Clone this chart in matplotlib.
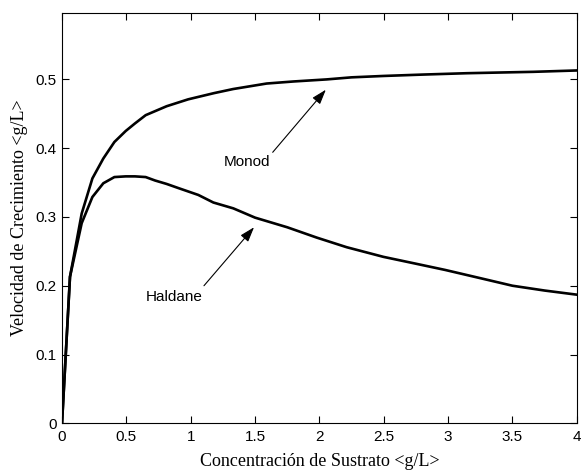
import matplotlib.pyplot as plt
import numpy as np

# sustrato (g/L) y velocidad
s_monod = [0, 0.062, 0.153, 0.236, 0.321, 0.407, 0.495, 0.567, 0.65, 0.813, 0.98, 1.18,
           1.33, 1.59, 1.8, 2.057, 2.25, 2.497, 2.8, 3.145, 3.4, 3.66, 4.0]
v_monod = [0, 0.213, 0.305, 0.356, 0.385, 0.409, 0.425, 0.436, 0.448, 0.461, 0.471, 0.480,
           0.486, 0.494, 0.497, 0.500, 0.503, 0.505, 0.507, 0.509, 0.510, 0.511, 0.513]

s_haldane = [0, 0.062, 0.153, 0.236, 0.321, 0.407, 0.495, 0.567, 0.65, 0.723, 0.813, 0.904,
             1.059, 1.176, 1.331, 1.5, 1.75, 1.979, 2.212, 2.497, 2.75, 2.976, 3.25, 3.5,
             3.75, 4.0]
v_haldane = [0, 0.213, 0.291, 0.329, 0.349, 0.358, 0.359, 0.359, 0.358, 0.353, 0.348, 0.342,
             0.332, 0.321, 0.3125, 0.299, 0.285, 0.270, 0.256, 0.242, 0.232, 0.223, 0.211, 0.200,
             0.193, 0.187]

plt.rcParams['font.family'] = ['Liberation Sans', 'DejaVu Sans']
fig = plt.figure(figsize=(5.85, 4.7), dpi=100)
ax = fig.add_axes([0.106, 0.0994, 0.88, 0.8736])

ax.plot(s_monod, v_monod, color='k', lw=1.9)
ax.plot(s_haldane, v_haldane, color='k', lw=1.9)

ax.set_xlim(0, 4)
ax.set_ylim(0, 0.597)
ax.set_xticks(np.arange(0, 4.01, 0.5))
ax.set_xticklabels(['0', '0.5', '1', '1.5', '2', '2.5', '3', '3.5', '4'])
ax.set_yticks([0, 0.1, 0.2, 0.3, 0.4, 0.5])
ax.set_yticklabels(['0', '0.1', '0.2', '0.3', '0.4', '0.5'])
ax.tick_params(direction='in', top=True, right=True, length=5, width=0.8, labelsize=11, pad=4)
ax.tick_params(axis='x', pad=5)
for sp in ax.spines.values():
    sp.set_linewidth(0.8)

ax.set_xlabel('Concentración de Sustrato <g/L>', family='Liberation Serif', fontsize=13, labelpad=6)
ax.set_ylabel('Velocidad de Crecimiento <g/L>', family='Liberation Serif', fontsize=13, labelpad=5)

arrow = dict(arrowstyle='-|>,head_length=0.9,head_width=0.3', color='k', lw=0.8, shrinkA=0, shrinkB=0)
ax.annotate('', xy=(2.05, 0.485), xytext=(1.637, 0.394), arrowprops=arrow)
ax.text(1.435, 0.380, 'Monod', fontsize=11, ha='center', va='center')
ax.annotate('', xy=(1.492, 0.285), xytext=(1.103, 0.200), arrowprops=arrow)
ax.text(0.873, 0.184, 'Haldane', fontsize=11, ha='center', va='center')

fig.savefig('out.png', dpi=100)
